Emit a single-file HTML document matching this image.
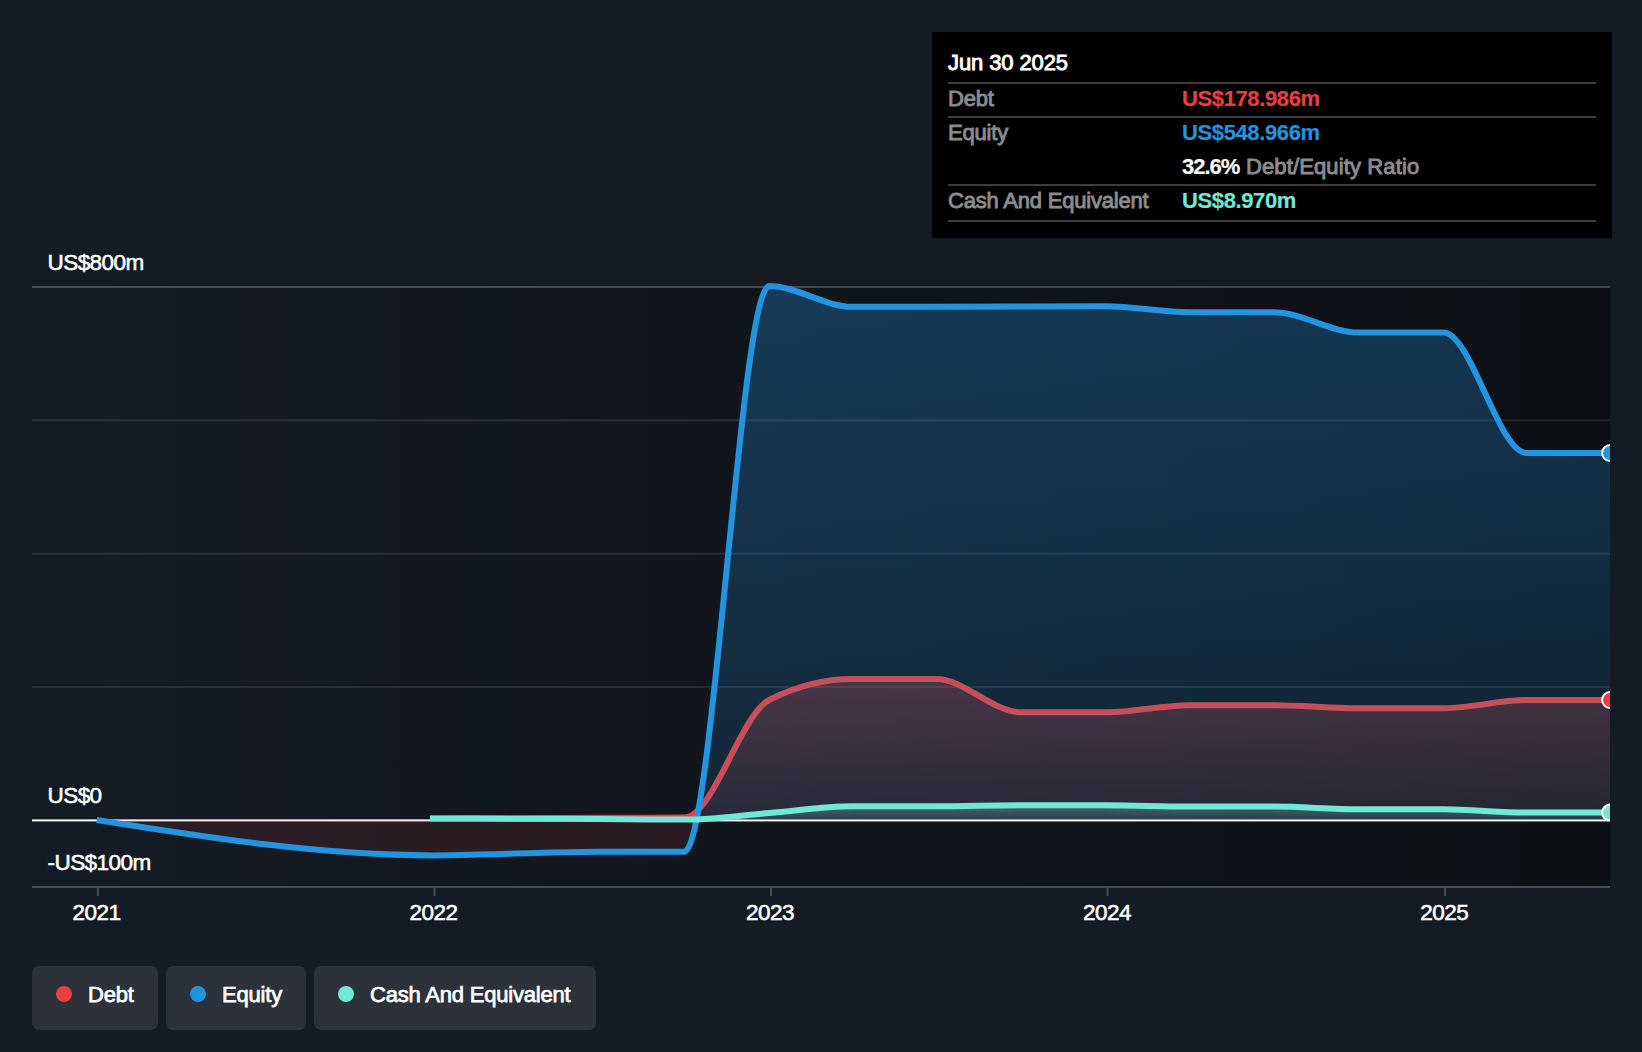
<!DOCTYPE html>
<html lang="en">
<head>
<meta charset="utf-8">
<title>Debt to Equity History</title>
<style>
html,body{margin:0;padding:0;}
body{width:1642px;height:1052px;background:#151b24;overflow:hidden;position:relative;font-family:"Liberation Sans",Arial,sans-serif;}
svg{position:absolute;left:0;top:0;}
svg text{font-family:"Liberation Sans",Arial,sans-serif;font-size:22.5px;fill:#fff;stroke:#fff;stroke-width:0.55px;letter-spacing:-0.55px;}
.tip{position:absolute;left:932px;top:32px;width:680px;height:206px;background:#000;}
.tip .row{position:absolute;left:16px;width:648px;height:34px;box-sizing:border-box;}
.tip .lbl{position:absolute;left:0;top:0;color:#8c8c8c;font-size:22px;line-height:34px;white-space:nowrap;-webkit-text-stroke:0.9px #8c8c8c;letter-spacing:-0.2px;}
.tip .val{position:absolute;left:234px;top:0;font-size:22px;line-height:34px;white-space:nowrap;font-weight:bold;-webkit-text-stroke:0.2px currentColor;letter-spacing:-0.38px;}
.tip .med{font-weight:normal;-webkit-text-stroke:0.9px #8c8c8c;}
.tip .hr{position:absolute;left:16px;width:648px;height:2px;background:#3d3d3d;}
.tip .date{position:absolute;left:16px;top:14px;color:#fff;font-size:22px;line-height:34px;white-space:nowrap;-webkit-text-stroke:0.9px #fff;letter-spacing:-0.1px;}
.leg{position:absolute;top:966px;height:64px;background:#2c313a;border-radius:7px;}
.leg .dot{position:absolute;left:24px;top:20px;width:16px;height:16px;border-radius:50%;}
.leg .t{position:absolute;left:56px;top:0;line-height:58px;font-size:22px;color:#fff;white-space:nowrap;-webkit-text-stroke:0.75px #fff;letter-spacing:-0.2px;}
</style>
</head>
<body>
<svg width="1642" height="1052" viewBox="0 0 1642 1052">
  <defs>
    <linearGradient id="bgG" x1="0" y1="0" x2="1" y2="0">
      <stop offset="0" stop-color="#000" stop-opacity="0"/>
      <stop offset="1" stop-color="#000" stop-opacity="0.43"/>
    </linearGradient>
    <linearGradient id="eqG" gradientUnits="userSpaceOnUse" x1="0" y1="287" x2="0" y2="820">
      <stop offset="0" stop-color="#2394df" stop-opacity="0.30"/>
      <stop offset="1" stop-color="#2394df" stop-opacity="0.13"/>
    </linearGradient>
    <linearGradient id="deG" gradientUnits="userSpaceOnUse" x1="0" y1="679" x2="0" y2="820">
      <stop offset="0" stop-color="#e64141" stop-opacity="0.30"/>
      <stop offset="1" stop-color="#e64141" stop-opacity="0.10"/>
    </linearGradient>
    <linearGradient id="caG" gradientUnits="userSpaceOnUse" x1="0" y1="805" x2="0" y2="820">
      <stop offset="0" stop-color="#71e7d6" stop-opacity="0.35"/>
      <stop offset="1" stop-color="#71e7d6" stop-opacity="0.10"/>
    </linearGradient>
    <clipPath id="plot"><rect x="32" y="200" width="1578" height="700"/></clipPath>
    <clipPath id="pos"><rect x="32" y="200" width="1578" height="620"/></clipPath>
    <clipPath id="neg"><rect x="32" y="820" width="1578" height="80"/></clipPath>
  </defs>
  <rect x="32" y="286" width="1578" height="600" fill="url(#bgG)"/>
  <!-- grid -->
  <rect x="32" y="286" width="1578" height="2" fill="#fff" fill-opacity="0.22"/>
  <rect x="32" y="419.35" width="1578" height="2" fill="#fff" fill-opacity="0.1"/>
  <rect x="32" y="552.7" width="1578" height="2" fill="#fff" fill-opacity="0.1"/>
  <rect x="32" y="686.05" width="1578" height="2" fill="#fff" fill-opacity="0.1"/>
  <rect x="32" y="886" width="1578" height="2" fill="#fff" fill-opacity="0.22"/>
  <!-- ticks -->
  <g fill="#fff" fill-opacity="0.22">
    <rect x="96.9" y="888" width="2" height="8"/>
    <rect x="433.5" y="888" width="2" height="8"/>
    <rect x="770" y="888" width="2" height="8"/>
    <rect x="1106.6" y="888" width="2" height="8"/>
    <rect x="1444.1" y="888" width="2" height="8"/>
  </g>
  <!-- zero line -->
  <rect x="32" y="819.4" width="1578" height="2" fill="#fff"/>
  <g clip-path="url(#plot)">
    <!-- debt -->
    <path d="M430.00,818.40C458.50,818.35 486.99,818.30 515.49,818.20C543.47,818.10 571.45,817.90 599.43,817.80C627.72,817.70 656.00,817.73 684.29,817.60C712.58,817.47 740.87,714.31 769.15,700.00C796.82,686.00 824.50,679.00 852.17,679.00C880.15,679.00 908.13,679.00 936.11,679.00C964.39,679.00 992.68,712.30 1020.97,712.30C1049.25,712.30 1077.54,712.30 1105.83,712.30C1133.81,712.30 1161.79,705.20 1189.77,705.20C1217.75,705.20 1245.73,705.20 1273.70,705.20C1301.99,705.20 1330.28,708.20 1358.57,708.20C1386.85,708.20 1415.14,708.20 1443.43,708.20C1471.10,708.20 1498.77,700.00 1526.44,700.00C1554.42,700.00 1582.40,700.00 1610.38,700.00L1610.38,820.00L430.00,820.00Z" fill="url(#deG)"/>
    <path d="M430.00,818.40C458.50,818.35 486.99,818.30 515.49,818.20C543.47,818.10 571.45,817.90 599.43,817.80C627.72,817.70 656.00,817.73 684.29,817.60C712.58,817.47 740.87,714.31 769.15,700.00C796.82,686.00 824.50,679.00 852.17,679.00C880.15,679.00 908.13,679.00 936.11,679.00C964.39,679.00 992.68,712.30 1020.97,712.30C1049.25,712.30 1077.54,712.30 1105.83,712.30C1133.81,712.30 1161.79,705.20 1189.77,705.20C1217.75,705.20 1245.73,705.20 1273.70,705.20C1301.99,705.20 1330.28,708.20 1358.57,708.20C1386.85,708.20 1415.14,708.20 1443.43,708.20C1471.10,708.20 1498.77,700.00 1526.44,700.00C1554.42,700.00 1582.40,700.00 1610.38,700.00" fill="none" stroke="#e64141" stroke-width="6"/>
    <!-- equity -->
    <g clip-path="url(#pos)"><path d="M96.60,820.00C208.56,837.70 320.52,855.40 432.48,855.40C460.15,855.40 487.82,854.20 515.49,853.60C543.47,853.00 571.45,851.80 599.43,851.80C627.72,851.80 656.00,851.80 684.29,851.80C712.58,851.80 740.87,286.00 769.15,286.00C796.82,286.00 824.50,306.80 852.17,306.80C880.15,306.80 908.13,306.80 936.11,306.80C964.39,306.80 992.68,306.58 1020.97,306.50C1049.25,306.42 1077.54,306.30 1105.83,306.30C1133.81,306.30 1161.79,312.20 1189.77,312.20C1217.75,312.20 1245.73,312.20 1273.70,312.20C1301.99,312.20 1330.28,332.50 1358.57,332.50C1386.85,332.50 1415.14,332.50 1443.43,332.50C1471.10,332.50 1498.77,453.00 1526.44,453.00C1554.42,453.00 1582.40,453.00 1610.38,453.00L1610.38,820.00L96.60,820.00Z" fill="url(#eqG)"/></g>
    <g clip-path="url(#neg)"><path d="M96.60,820.00C208.56,837.70 320.52,855.40 432.48,855.40C460.15,855.40 487.82,854.20 515.49,853.60C543.47,853.00 571.45,851.80 599.43,851.80C627.72,851.80 656.00,851.80 684.29,851.80C712.58,851.80 740.87,286.00 769.15,286.00C796.82,286.00 824.50,306.80 852.17,306.80C880.15,306.80 908.13,306.80 936.11,306.80C964.39,306.80 992.68,306.58 1020.97,306.50C1049.25,306.42 1077.54,306.30 1105.83,306.30C1133.81,306.30 1161.79,312.20 1189.77,312.20C1217.75,312.20 1245.73,312.20 1273.70,312.20C1301.99,312.20 1330.28,332.50 1358.57,332.50C1386.85,332.50 1415.14,332.50 1443.43,332.50C1471.10,332.50 1498.77,453.00 1526.44,453.00C1554.42,453.00 1582.40,453.00 1610.38,453.00L1610.38,820.00L96.60,820.00Z" fill="#e64141" fill-opacity="0.11"/></g>
    <path d="M96.60,820.00C208.56,837.70 320.52,855.40 432.48,855.40C460.15,855.40 487.82,854.20 515.49,853.60C543.47,853.00 571.45,851.80 599.43,851.80C627.72,851.80 656.00,851.80 684.29,851.80C712.58,851.80 740.87,286.00 769.15,286.00C796.82,286.00 824.50,306.80 852.17,306.80C880.15,306.80 908.13,306.80 936.11,306.80C964.39,306.80 992.68,306.58 1020.97,306.50C1049.25,306.42 1077.54,306.30 1105.83,306.30C1133.81,306.30 1161.79,312.20 1189.77,312.20C1217.75,312.20 1245.73,312.20 1273.70,312.20C1301.99,312.20 1330.28,332.50 1358.57,332.50C1386.85,332.50 1415.14,332.50 1443.43,332.50C1471.10,332.50 1498.77,453.00 1526.44,453.00C1554.42,453.00 1582.40,453.00 1610.38,453.00" fill="none" stroke="#2394df" stroke-width="6"/>
    <!-- cash -->
    <path d="M430.00,818.40C458.50,818.50 486.99,818.60 515.49,818.70C543.47,818.80 571.45,818.85 599.43,819.00C627.72,819.15 656.00,819.60 684.29,819.60C712.58,819.60 740.87,815.24 769.15,813.00C796.82,810.81 824.50,806.30 852.17,806.30C880.15,806.30 908.13,806.30 936.11,806.30C964.39,806.30 992.68,805.30 1020.97,805.30C1049.25,805.30 1077.54,805.30 1105.83,805.30C1133.81,805.30 1161.79,806.50 1189.77,806.50C1217.75,806.50 1245.73,806.50 1273.70,806.50C1301.99,806.50 1330.28,809.30 1358.57,809.30C1386.85,809.30 1415.14,809.30 1443.43,809.30C1471.10,809.30 1498.77,812.60 1526.44,812.60C1554.42,812.60 1582.40,812.60 1610.38,812.60L1610.38,820.00L430.00,820.00Z" fill="url(#caG)"/>
    <path d="M430.00,818.40C458.50,818.50 486.99,818.60 515.49,818.70C543.47,818.80 571.45,818.85 599.43,819.00C627.72,819.15 656.00,819.60 684.29,819.60C712.58,819.60 740.87,815.24 769.15,813.00C796.82,810.81 824.50,806.30 852.17,806.30C880.15,806.30 908.13,806.30 936.11,806.30C964.39,806.30 992.68,805.30 1020.97,805.30C1049.25,805.30 1077.54,805.30 1105.83,805.30C1133.81,805.30 1161.79,806.50 1189.77,806.50C1217.75,806.50 1245.73,806.50 1273.70,806.50C1301.99,806.50 1330.28,809.30 1358.57,809.30C1386.85,809.30 1415.14,809.30 1443.43,809.30C1471.10,809.30 1498.77,812.60 1526.44,812.60C1554.42,812.60 1582.40,812.60 1610.38,812.60" fill="none" stroke="#71e7d6" stroke-width="6"/>
    <!-- markers -->
    <circle cx="1610.1" cy="700" r="8" fill="#e64141" stroke="#fff" stroke-width="2"/>
    <circle cx="1610.1" cy="453" r="8" fill="#2394df" stroke="#fff" stroke-width="2"/>
    <circle cx="1610.1" cy="812.6" r="8" fill="#71e7d6" stroke="#fff" stroke-width="2"/>
  </g>
  <!-- labels -->
  <text x="47.5" y="269.5">US$800m</text>
  <text x="47.5" y="802.5">US$0</text>
  <text x="47.5" y="869.5">-US$100m</text>
  <g text-anchor="middle">
    <text x="96.5" y="919.8">2021</text>
    <text x="433.5" y="919.8">2022</text>
    <text x="770" y="919.8">2023</text>
    <text x="1107" y="919.8">2024</text>
    <text x="1444.3" y="919.8">2025</text>
  </g>
</svg>

<div class="tip">
  <div class="date">Jun 30 2025</div>
  <div class="hr" style="top:50px"></div>
  <div class="row" style="top:50px"><span class="lbl">Debt</span><span class="val" style="color:#e64141">US$178.986m</span></div>
  <div class="hr" style="top:84px"></div>
  <div class="row" style="top:84px"><span class="lbl">Equity</span><span class="val" style="color:#2394df">US$548.966m</span></div>
  <div class="row" style="top:118px"><span class="val" style="color:#fff;letter-spacing:-1px">32.6%</span><span class="val med" style="left:298px;color:#8c8c8c;letter-spacing:0.12px">Debt/Equity Ratio</span></div>
  <div class="hr" style="top:152px"></div>
  <div class="row" style="top:152px"><span class="lbl">Cash And Equivalent</span><span class="val" style="color:#71e7d6">US$8.970m</span></div>
  <div class="hr" style="top:188px"></div>
</div>

<div class="leg" style="left:32px;width:126px"><span class="dot" style="background:#e64141"></span><span class="t">Debt</span></div>
<div class="leg" style="left:166px;width:140px"><span class="dot" style="background:#2394df"></span><span class="t">Equity</span></div>
<div class="leg" style="left:314px;width:282px"><span class="dot" style="background:#71e7d6"></span><span class="t">Cash And Equivalent</span></div>
</body>
</html>
